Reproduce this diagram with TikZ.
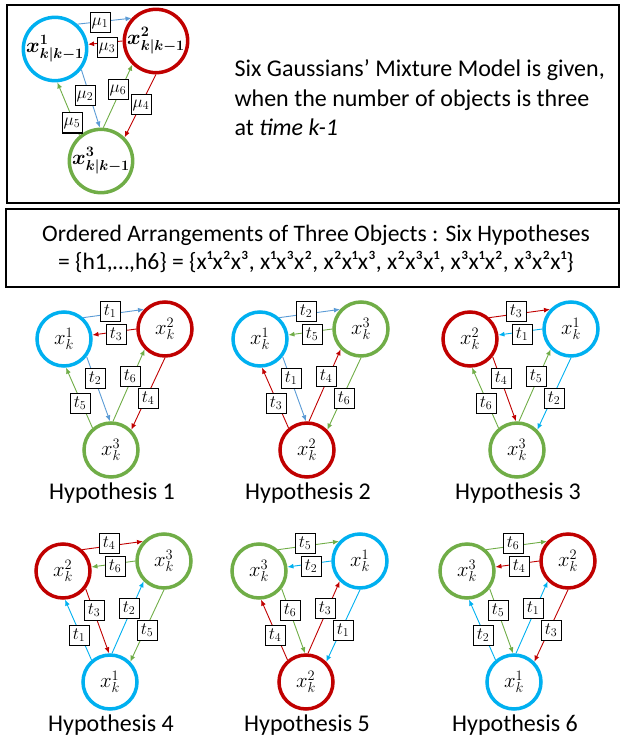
\documentclass[tikz,border=0pt]{standalone}
\usepackage{fontspec}
\setmainfont{Carlito}
\usetikzlibrary{arrows.meta}
\definecolor{cblue}{HTML}{00B0F0}
\definecolor{cred}{HTML}{C00000}
\definecolor{cgreen}{HTML}{70AD47}
\definecolor{ablue}{HTML}{5B9BD5}
\tikzset{
  obj/.style={circle, draw=#1, line width=3.5pt, minimum size=54pt, inner sep=0pt, font=\fontsize{22}{22}\selectfont},
  lbl/.style={draw=black, line width=1pt, fill=white, minimum width=20pt, minimum height=20pt, inner sep=0pt, font=\fontsize{17}{17}\selectfont},
  link/.style={draw=#1, line width=0.9pt, -{Latex[length=6pt,width=5pt]}},
  frame/.style={draw=black, line width=1.5pt},
  captxt/.style={font=\fontsize{24}{24}\selectfont, inner sep=0pt},
  bigtxt/.style={font=\fontsize{24}{29.5}\selectfont, align=left},
  midtxt/.style={font=\fontsize{23.6}{27.5}\selectfont, align=center}
}
\begin{document}
\begin{tikzpicture}[x=1pt,y=-1pt]
\useasboundingbox (0,0) rectangle (620,741);
% frames
\draw[frame] (7,5) rectangle (619,203);
\draw[frame] (6,209) rectangle (619,287);
% top diagram
\node[obj=cblue, font=\fontsize{20}{20}\selectfont\boldmath] (T1) at (55,49) {$x^{1}_{k|k-1}$};
\node[obj=cred, font=\fontsize{20}{20}\selectfont\boldmath] (T2) at (156,41) {$x^{2}_{k|k-1}$};
\node[obj=cgreen, font=\fontsize{20}{20}\selectfont\boldmath] (T3) at (101,161) {$x^{3}_{k|k-1}$};
\draw[link=ablue] (T1.48) -- (T2.137);
\draw[link=cred] (T2.180) -- (T1.8);
\draw[link=ablue] (T1.-38) -- (T3.92);
\draw[link=cgreen] (T3.130) -- (T1.-86);
\draw[link=cgreen] (T3.86) -- (T2.-135);
\draw[link=cred] (T2.-90) -- (T3.45);
\node[lbl] (m1) at (100,23) {$\mu_1$};
\node[lbl] (m3) at (107,48) {$\mu_3$};
\node[lbl] (m2) at (85,96) {$\mu_2$};
\node[lbl] (m5) at (72,123) {$\mu_5$};
\node[lbl] (m6) at (118,90) {$\mu_6$};
\node[lbl] (m4) at (141,105) {$\mu_4$};
\node[bigtxt, anchor=west] (toptext) at (231,98) {Six Gaussians’ Mixture Model is given,\\when the number of objects is three\\at \textit{time k-1}};
% second box
\node[midtxt] (hyptext) at (316,249) {Ordered Arrangements of Three Objects : Six Hypotheses\\= \{h1,…,h6\} = \{x¹x²x³, x¹x³x², x²x¹x³, x²x³x¹, x³x¹x², x³x²x¹\}};
% hypotheses
\foreach \i/\cx/\cy/\lc/\la/\ls/\rc/\ra/\rs/\bc/\ba/\bs/\ta/\tb/\tc/\td/\te/\tf in {
 1/64/339/cblue/ablue/1/cred/cred/2/cgreen/cgreen/3/1/3/2/5/6/4,
 2/260/339/cblue/ablue/1/cgreen/cgreen/3/cred/cred/2/2/5/1/3/4/6,
 3/470/339/cred/cred/2/cblue/cblue/1/cgreen/cgreen/3/3/1/4/6/5/2,
 4/63/571/cred/cred/2/cgreen/cgreen/3/cblue/cblue/1/4/6/3/1/2/5,
 5/259/571/cgreen/cgreen/3/cblue/cblue/1/cred/cred/2/5/2/6/4/3/1,
 6/467/571/cgreen/cgreen/3/cred/cred/2/cblue/cblue/1/6/4/5/2/1/3}{
  \node[obj=\lc] (L\i) at (\cx,\cy) {$x^{\ls}_{k}$};
  \node[obj=\rc] (R\i) at (\cx+101,\cy-10) {$x^{\rs}_{k}$};
  \node[obj=\bc] (B\i) at (\cx+47,\cy+111) {$x^{\bs}_{k}$};
  \draw[link=\la] (L\i.48) -- (R\i.137);
  \draw[link=\ra] (R\i.180) -- (L\i.8);
  \draw[link=\la] (L\i.-38) -- (B\i.92);
  \draw[link=\ba] (B\i.130) -- (L\i.-86);
  \draw[link=\ba] (B\i.86) -- (R\i.-135);
  \draw[link=\ra] (R\i.-90) -- (B\i.45);
  \node[lbl] (ta\i) at (\cx+46,\cy-28) {$t_{\ta}$};
  \node[lbl] (tb\i) at (\cx+52,\cy-5) {$t_{\tb}$};
  \node[lbl] (tc\i) at (\cx+31,\cy+39) {$t_{\tc}$};
  \node[lbl] (td\i) at (\cx+16,\cy+64) {$t_{\td}$};
  \node[lbl] (te\i) at (\cx+66,\cy+37) {$t_{\te}$};
  \node[lbl] (tf\i) at (\cx+84,\cy+59) {$t_{\tf}$};
  \node[captxt] (cap\i) at (\cx+48,\cy+154) {Hypothesis \i};
}
\end{tikzpicture}
\end{document}
